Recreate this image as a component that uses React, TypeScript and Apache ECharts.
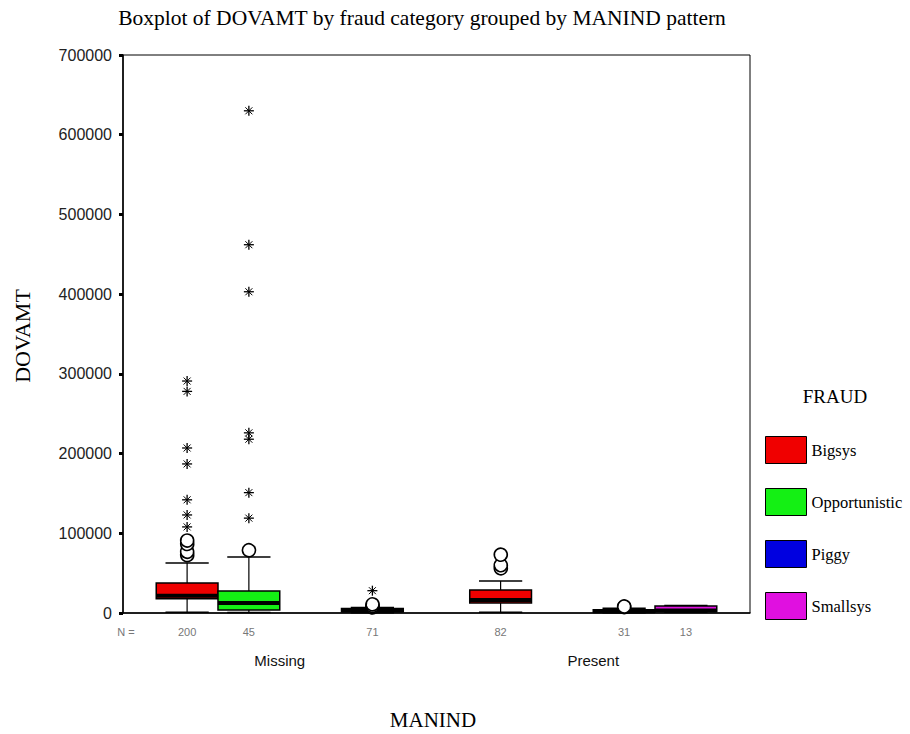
import React, { useEffect, useRef } from 'react';
import * as echarts from 'echarts';

const CATEGORIES = ['Missing', 'Present'];
const FRAUD_TYPES = ['Bigsys', 'Opportunistic', 'Piggy', 'Smallsys'];
const FRAUD_COLORS = ['#f00000', '#14f014', '#0000e0', '#e010e0'];

const Y_MIN = 0;
const Y_MAX = 700000;
const Y_INTERVAL = 100000;

// box stats: [categoryIndex, min, q1, median, q3, max]
const BIGSYS_BOX = [
  [0, 1000, 18000, 21500, 37600, 62700],
  [1, 1000, 12500, 16300, 28800, 40000],
];
const OPPORTUNISTIC_BOX = [[0, 500, 3800, 12500, 27600, 70300]];
const PIGGY_BOX = [[1, 300, 1200, 2200, 4000, 6000]];
const SMALLSYS_BOX = [
  [0, 300, 1500, 3000, 5500, 7000],
  [1, 800, 2000, 3000, 8800, 9500],
];

// outliers (circles) and extremes (asterisks): [categoryIndex, value]
const BIGSYS_OUTLIERS = [[0, 74000], [0, 78000], [0, 88000], [0, 92000], [1, 58000], [1, 62000], [1, 75000]];
const BIGSYS_EXTREMES = [[0, 108000], [0, 123000], [0, 142000], [0, 187000], [0, 207000], [0, 278000], [0, 291000]];
const OPPORTUNISTIC_OUTLIERS = [[0, 80000]];
const OPPORTUNISTIC_EXTREMES = [[0, 119000], [0, 151000], [0, 218000], [0, 226000], [0, 403000], [0, 462000], [0, 630000]];
const PIGGY_OUTLIERS = [[1, 8500], [1, 9300]];
const PIGGY_EXTREMES: number[][] = [];
const SMALLSYS_OUTLIERS = [[0, 8500], [0, 10500], [0, 12500]];
const SMALLSYS_EXTREMES = [[0, 28000]];

// counts per category, in fraud order
const N_MISSING = [200, 45, null, 71];
const N_PRESENT = [82, null, 31, 13];

const SLOT_FRAC = 0.197;
const SERIF = 'Liberation Serif';
const SANS = 'Liberation Sans';

function slotCenter(api: any, cat: number, slot: number) {
  const band = api.size([1, 0])[0];
  const w = band * SLOT_FRAC;
  return { cx: api.coord([cat, 0])[0] + (slot - 1.5) * w, w };
}

function line(x1: number, y1: number, x2: number, y2: number, lw: number) {
  return { type: 'line', shape: { x1, y1, x2, y2 }, style: { stroke: '#000', lineWidth: lw } };
}

const makeBoxRender = (slot: number, color: string) => (_p: any, api: any) => {
  const cat = api.value(0);
  const { cx, w } = slotCenter(api, cat, slot);
  const y = (i: number) => api.coord([cat, api.value(i)])[1];
  const yMin = y(1), yQ1 = y(2), yMed = y(3), yQ3 = y(4), yMax = y(5);
  const capHalf = w * 0.35;
  return {
    type: 'group',
    children: [
      line(cx, yQ3, cx, yMax, 1.2),
      line(cx - capHalf, yMax, cx + capHalf, yMax, 1.5),
      line(cx, yQ1, cx, yMin, 1.2),
      line(cx - capHalf, yMin, cx + capHalf, yMin, 1.5),
      {
        type: 'rect',
        shape: { x: cx - w / 2, y: yQ3, width: w, height: Math.max(yQ1 - yQ3, 1) },
        style: { fill: color, stroke: '#000', lineWidth: 1.5 },
      },
      line(cx - w / 2, yMed, cx + w / 2, yMed, 4),
    ],
  };
};

const makeOutlierRender = (slot: number) => (_p: any, api: any) => {
  const cat = api.value(0);
  const { cx } = slotCenter(api, cat, slot);
  const cy = api.coord([cat, api.value(1)])[1];
  return {
    type: 'circle',
    shape: { cx, cy, r: 6.5 },
    style: { fill: '#fff', stroke: '#000', lineWidth: 1.6 },
  };
};

const makeExtremeRender = (slot: number) => (_p: any, api: any) => {
  const cat = api.value(0);
  const { cx } = slotCenter(api, cat, slot);
  const cy = api.coord([cat, api.value(1)])[1];
  const r = 5;
  const d = 3.5;
  return {
    type: 'group',
    children: [
      line(cx - r, cy, cx + r, cy, 1.3),
      line(cx, cy - r, cx, cy + r, 1.3),
      line(cx - d, cy - d, cx + d, cy + d, 1),
      line(cx - d, cy + d, cx + d, cy - d, 1),
    ],
  };
};

const countRender = (_p: any, api: any) => {
  const cat = api.value(0);
  const slot = api.value(2);
  const { cx } = slotCenter(api, cat, slot);
  const y0 = api.coord([cat, 0])[1];
  return {
    type: 'text',
    x: cx,
    y: y0 + 19,
    style: {
      text: String(api.value(3)),
      textAlign: 'center',
      textVerticalAlign: 'middle',
      fill: '#777',
      font: `11px "${SANS}"`,
    },
  };
};

export default function App() {
  const ref = useRef<HTMLDivElement>(null);

  useEffect(() => {
    if (!ref.current) return;
    const chart = echarts.init(ref.current, undefined, { renderer: 'svg' });

    const boxes = [BIGSYS_BOX, OPPORTUNISTIC_BOX, PIGGY_BOX, SMALLSYS_BOX];
    const outliers = [BIGSYS_OUTLIERS, OPPORTUNISTIC_OUTLIERS, PIGGY_OUTLIERS, SMALLSYS_OUTLIERS];
    const extremes = [BIGSYS_EXTREMES, OPPORTUNISTIC_EXTREMES, PIGGY_EXTREMES, SMALLSYS_EXTREMES];

    const countData: number[][] = [];
    [N_MISSING, N_PRESENT].forEach((arr, cat) => {
      arr.forEach((n, slot) => {
        if (n != null) countData.push([cat, 0, slot, n]);
      });
    });

    const series: any[] = [];
    FRAUD_TYPES.forEach((name, slot) => {
      series.push({
        name,
        type: 'custom',
        renderItem: makeBoxRender(slot, FRAUD_COLORS[slot]),
        itemStyle: { color: FRAUD_COLORS[slot] },
        encode: { x: 0, y: [1, 2, 3, 4, 5] },
        data: boxes[slot],
        z: 2,
      });
    });
    FRAUD_TYPES.forEach((name, slot) => {
      series.push({
        name: name + ' outliers',
        type: 'custom',
        renderItem: makeOutlierRender(slot),
        encode: { x: 0, y: 1 },
        data: outliers[slot],
        z: 3,
      });
      series.push({
        name: name + ' extremes',
        type: 'custom',
        renderItem: makeExtremeRender(slot),
        encode: { x: 0, y: 1 },
        data: extremes[slot],
        z: 3,
      });
    });
    series.push({
      name: 'N',
      type: 'custom',
      renderItem: countRender,
      encode: { x: 0, y: 1 },
      data: countData,
      z: 3,
    });

    chart.setOption({
      animation: false,
      backgroundColor: '#fff',
      grid: {
        left: 123,
        right: 160,
        top: 55,
        bottom: 121,
        show: true,
        borderColor: '#000',
        borderWidth: 1,
        backgroundColor: 'transparent',
      },
      xAxis: {
        type: 'category',
        data: CATEGORIES,
        boundaryGap: true,
        axisLine: { lineStyle: { color: '#000', width: 1.5 } },
        axisTick: { alignWithLabel: true, length: 4, lineStyle: { color: '#000', width: 3 } },
        axisLabel: { margin: 40, fontFamily: SANS, fontSize: 15, color: '#111' },
        splitLine: { show: false },
      },
      yAxis: {
        type: 'value',
        min: Y_MIN,
        max: Y_MAX,
        interval: Y_INTERVAL,
        axisLine: { show: true, lineStyle: { color: '#000', width: 1.5 } },
        axisTick: { show: true, length: 4, lineStyle: { color: '#000', width: 3 } },
        axisLabel: {
          margin: 11,
          fontFamily: SANS,
          fontSize: 16,
          color: '#222',
          formatter: (v: number) => String(v),
        },
        splitLine: { show: false },
      },
      legend: {
        data: FRAUD_TYPES,
        orient: 'vertical',
        left: 765,
        top: 436,
        padding: 0,
        itemWidth: 41,
        itemHeight: 27,
        itemGap: 24,
        icon: 'rect',
        itemStyle: { borderColor: '#000', borderWidth: 1 },
        textStyle: { fontFamily: SERIF, fontSize: 16.5, color: '#000' },
        selectedMode: false,
      },
      graphic: [
        {
          type: 'text',
          x: 422,
          y: 18,
          style: {
            text: 'Boxplot of DOVAMT by fraud category grouped by MANIND pattern',
            textAlign: 'center',
            textVerticalAlign: 'middle',
            font: `21.5px "${SERIF}"`,
            fill: '#000',
          },
        },
        {
          type: 'text',
          x: 22,
          y: 336,
          rotation: Math.PI / 2,
          style: {
            text: 'DOVAMT',
            textAlign: 'center',
            textVerticalAlign: 'middle',
            font: `22px "${SERIF}"`,
            fill: '#000',
          },
        },
        {
          type: 'text',
          x: 433,
          y: 720,
          style: {
            text: 'MANIND',
            textAlign: 'center',
            textVerticalAlign: 'middle',
            font: `21px "${SERIF}"`,
            fill: '#000',
          },
        },
        {
          type: 'text',
          x: 835,
          y: 396,
          style: {
            text: 'FRAUD',
            textAlign: 'center',
            textVerticalAlign: 'middle',
            font: `19px "${SERIF}"`,
            fill: '#000',
          },
        },
        {
          type: 'text',
          x: 126,
          y: 632,
          style: {
            text: 'N =',
            textAlign: 'center',
            textVerticalAlign: 'middle',
            font: `11px "${SANS}"`,
            fill: '#777',
          },
        },
      ],
      series,
    });

    return () => chart.dispose();
  }, []);

  return (
    <div
      ref={ref}
      style={{ position: 'absolute', left: 0, top: 0, width: 910, height: 734 }}
    />
  );
}
